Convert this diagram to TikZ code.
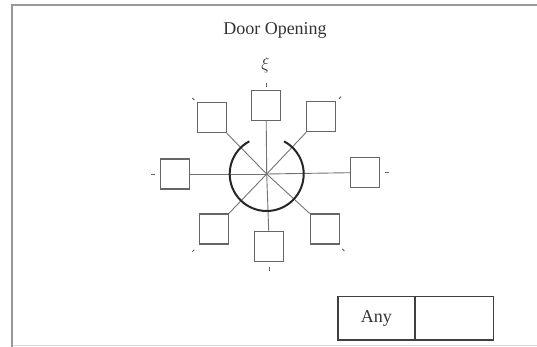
\documentclass[tikz,border=0pt]{standalone}
\usepackage{fontspec}
\setmainfont{Liberation Serif}
\usetikzlibrary{calc}
\begin{document}
\begin{tikzpicture}[x=1pt,y=-1pt,
  framel/.style={draw=gray!80, line width=2.2pt},
  posbox/.style={draw=black!60, line width=1.1pt, minimum width=29pt, minimum height=30pt, inner sep=0pt},
  spoke/.style={draw=black!55, line width=0.9pt},
  tickm/.style={draw=black!60, line width=1pt},
  arcl/.style={draw=black!85, line width=2pt},
  lbl/.style={font=\fontsize{18}{20}\selectfont, text=black!80, inner sep=0pt},
  tbl/.style={draw=black!75, line width=1.3pt}]
\useasboundingbox (0,0) rectangle (537,347);
% frame
\draw[framel] (12,347) -- (12,5) -- (537,5);
\draw[draw=gray!30, line width=1pt] (13,345.5) -- (537,345.5);
% title
\node[lbl] (title) at (275,30) {Door Opening};
% center
\coordinate (c) at (266.7,174);
% boxes
\node[posbox] (t)  at (266.2,105.5) {};
\node[posbox] (ur) at (321.3,116.7) {};
\node[posbox] (r)  at (365,172.7) {};
\node[posbox] (lr) at (324.7,229) {};
\node[posbox] (b)  at (268.7,246.2) {};
\node[posbox] (ll) at (213.8,229) {};
\node[posbox] (l)  at (174.7,174) {};
\node[posbox] (ul) at (211.7,117.7) {};
% spokes
\draw[spoke] (c) -- (t.south);
\draw[spoke] (c) -- (b.north);
\draw[spoke] (c) -- (l.east);
\draw[spoke] (c) -- (r.west);
\draw[spoke] (c) -- (ul.south east);
\draw[spoke] (c) -- (ur.south west);
\draw[spoke] (c) -- (ll.north east);
\draw[spoke] (c) -- (lr.north west);
% arc
\draw[arcl] ($(c)+(-118:37)$) arc[start angle=-118, end angle=-422, radius=37];
% ticks
\draw[tickm] (266,83) -- (266,87);
\draw[tickm] (269.3,266.5) -- (269.3,270.5);
\draw[tickm] (151,175) -- (155,175);
\draw[tickm] (384.5,173) -- (388.5,173);
\draw[tickm] (192.3,98) -- (194.3,100);
\draw[tickm] (341,96.7) -- (339,98.7);
\draw[tickm] (192.3,251.7) -- (194.3,249.7);
\draw[tickm] (344.3,251) -- (342.3,249);
% top label
\node[lbl] (sq) at (265.5,65) {$\xi$};
% table
\node[tbl, minimum width=77pt, minimum height=43.6pt, inner sep=0pt, anchor=north west] (any) at (337.3,295.7) {};
\node[tbl, minimum width=78.7pt, minimum height=43.6pt, inner sep=0pt, anchor=north west] (empty) at (414,295.7) {};
\node[lbl] (anytxt) at (any.center) {Any};
\end{tikzpicture}
\end{document}
